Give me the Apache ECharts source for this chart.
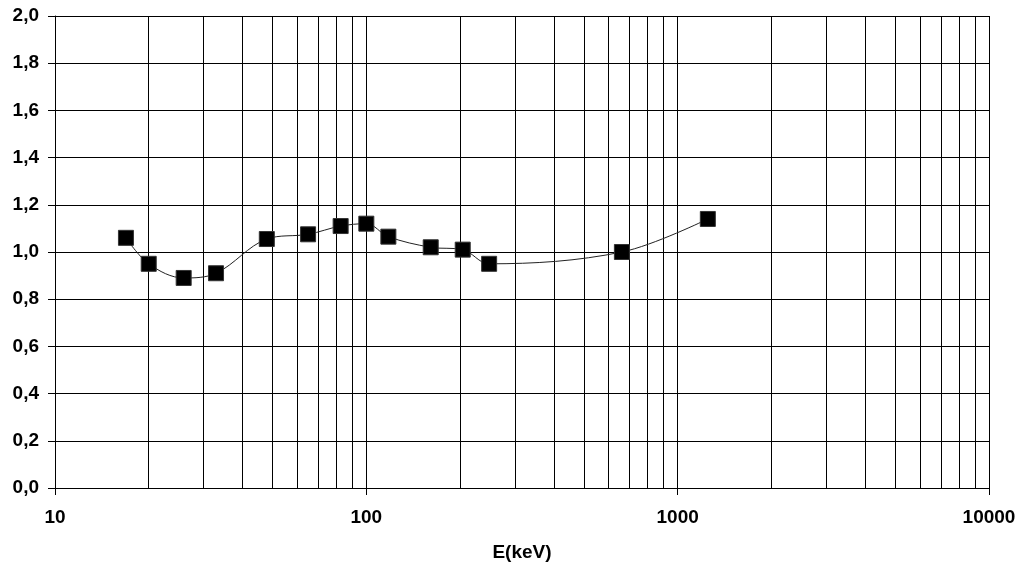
<!DOCTYPE html>
<html>
<head>
<meta charset="utf-8">
<script src="https://cdn.jsdelivr.net/npm/echarts@6/dist/echarts.min.js"></script>
<style>
  html, body { margin: 0; padding: 0; background: #fff; }
  #chart { width: 1026px; height: 562px; }
</style>
</head>
<body>
<div id="chart"></div>
<script>
// energy (keV) and relative response
const energies = [16.9, 20, 25.9, 32.9, 47.9, 65, 82.7, 100, 117.7, 161, 204, 248, 662, 1250]
const responses = [1.06, 0.95, 0.89, 0.91, 1.055, 1.075, 1.11, 1.12, 1.065, 1.02, 1.01, 0.95, 1.0, 1.14]
const minorGrid = [20, 30, 40, 50, 60, 70, 80, 90, 200, 300, 400, 500, 600, 700, 800, 900,
  2000, 3000, 4000, 5000, 6000, 7000, 8000, 9000]

const points = energies.map((e, i) => [e, responses[i]])
const labelStyle = { color: '#000', fontFamily: 'Liberation Sans', fontWeight: 'bold', fontSize: 19 }

const chart = echarts.init(document.getElementById('chart'), null, { renderer: 'canvas' })
chart.setOption({
  animation: false,
  backgroundColor: '#fff',
  grid: { left: 55, right: 37, top: 16, bottom: 74, containLabel: false, outerBoundsMode: 'none' },
  xAxis: {
    type: 'log',
    logBase: 10,
    min: 10,
    max: 10000,
    name: 'E(keV)',
    nameLocation: 'middle',
    nameGap: 55,
    nameTextStyle: labelStyle,
    axisLine: { lineStyle: { color: '#000', width: 1 } },
    axisTick: { show: true, length: 7, lineStyle: { color: '#000' } },
    axisLabel: { ...labelStyle, margin: 20, formatter: v => String(v) },
    splitLine: { show: true, lineStyle: { color: '#000', width: 1 } }
  },
  yAxis: {
    type: 'value',
    min: 0,
    max: 2,
    interval: 0.2,
    axisLine: { show: true, lineStyle: { color: '#000', width: 1 } },
    axisTick: { show: true, length: 7, lineStyle: { color: '#000' } },
    axisLabel: { ...labelStyle, margin: 16, formatter: v => v.toFixed(1).replace('.', ',') },
    splitLine: { show: true, lineStyle: { color: '#000', width: 1 } }
  },
  series: [
    {
      // carries the minor vertical grid lines only
      type: 'line',
      data: points,
      symbol: 'none',
      lineStyle: { opacity: 0 },
      silent: true,
      z: 1,
      markLine: {
        silent: true,
        symbol: ['none', 'none'],
        label: { show: false },
        lineStyle: { color: '#000', type: 'solid', width: 1 },
        data: minorGrid.map(v => ({ xAxis: v }))
      }
    },
    {
      type: 'line',
      data: points,
      smooth: 0.35,
      symbol: 'rect',
      symbolSize: 15,
      itemStyle: { color: '#000', borderColor: '#333', borderWidth: 1 },
      lineStyle: { color: '#222', width: 1 },
      z: 5
    }
  ]
})
</script>
</body>
</html>
